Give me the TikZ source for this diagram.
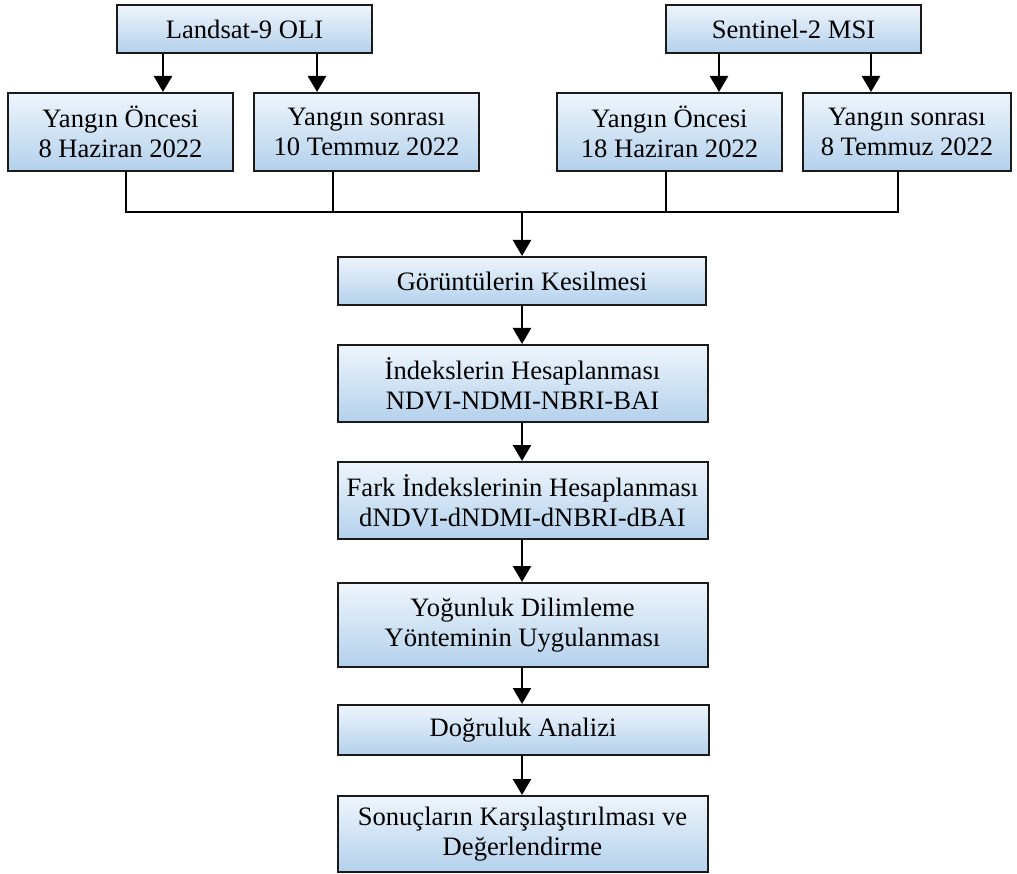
\documentclass[tikz,border=0pt]{standalone}
\usepackage{fontspec}
\setmainfont{Liberation Serif}
\usetikzlibrary{arrows.meta,calc}
\definecolor{boxtop}{HTML}{EEF5FC}
\definecolor{boxbot}{HTML}{B4D1EC}
\definecolor{edge}{HTML}{1A1A1A}
\tikzset{
  box/.style={draw=edge, line width=2pt, top color=boxtop, bottom color=boxbot,
    inner sep=0pt, align=center, font=\fontsize{26.6}{30}\selectfont},
  arr/.style={line width=2.6pt, -{Triangle[width=18pt,length=16pt]}},
  conn/.style={line width=1.8pt}
}
\begin{document}
\begin{tikzpicture}[x=1pt,y=-1pt]
\useasboundingbox (0,0) rectangle (1017,874);
% top sources
\node[box, minimum width=255pt, minimum height=48pt] (L) at (244.5,29) {Landsat-9 OLI};
\node[box, minimum width=255pt, minimum height=48pt] (S) at (793.5,29) {Sentinel-2 MSI};
% dates
\node[box, minimum width=225pt, minimum height=78pt] (B1) at (120.5,132) {Yangın Öncesi\\8 Haziran 2022};
\node[box, minimum width=225pt, minimum height=78pt] (B2) at (366.5,132) {Yangın sonrası\\10 Temmuz 2022};
\node[box, minimum width=225pt, minimum height=78pt] (B3) at (669.5,132) {Yangın Öncesi\\18 Haziran 2022};
\node[box, minimum width=208pt, minimum height=78pt] (B4) at (907,132) {Yangın sonrası\\8 Temmuz 2022};
% main column
\node[box, minimum width=368pt, minimum height=48pt] (G) at (522,281) {Görüntülerin Kesilmesi};
\node[box, minimum width=370pt, minimum height=77pt] (I) at (522.5,383.5) {İndekslerin Hesaplanması\\NDVI-NDMI-NBRI-BAI};
\node[box, minimum width=370pt, minimum height=77pt] (F) at (522.5,500.5) {Fark İndekslerinin Hesaplanması\\dNDVI-dNDMI-dNBRI-dBAI};
\node[box, minimum width=370pt, minimum height=84pt] (Y) at (522.5,625) {Yoğunluk Dilimleme\\Yönteminin Uygulanması};
\node[box, minimum width=371pt, minimum height=50pt] (D) at (523,730) {Doğruluk Analizi};
\node[box, minimum width=370pt, minimum height=76pt] (R) at (522.5,834) {Sonuçların Karşılaştırılması ve\\Değerlendirme};
% arrows from sources
\draw[arr] ([xshift=-81.5pt]L.south) -- ([xshift=-81.5pt]L.south |- B1.north);
\draw[arr] ([xshift=72.5pt]L.south) -- ([xshift=72.5pt]L.south |- B2.north);
\draw[arr] ([xshift=-74.5pt]S.south) -- ([xshift=-74.5pt]S.south |- B3.north);
\draw[arr] ([xshift=77.5pt]S.south) -- ([xshift=77.5pt]S.south |- B4.north);
% merge lines
\coordinate (j) at (522,212);
\draw[conn] ([xshift=5.5pt]B1.south) |- (j);
\draw[conn] ([xshift=-33.5pt]B2.south) -- ([xshift=-33.5pt]B2.south |- j);
\draw[conn] ([xshift=-3.5pt]B3.south) -- ([xshift=-3.5pt]B3.south |- j);
\draw[conn] ([xshift=-9pt]B4.south) |- (j);
\draw[arr] (j) -- (G.north);
% main flow
\draw[arr] (G.south) -- (G.south |- I.north);
\draw[arr] (I.south -| G.south) -- (G.south |- F.north);
\draw[arr] (F.south -| G.south) -- (G.south |- Y.north);
\draw[arr] (Y.south -| G.south) -- (G.south |- D.north);
\draw[arr] (D.south -| G.south) -- (G.south |- R.north);
\end{tikzpicture}
\end{document}
